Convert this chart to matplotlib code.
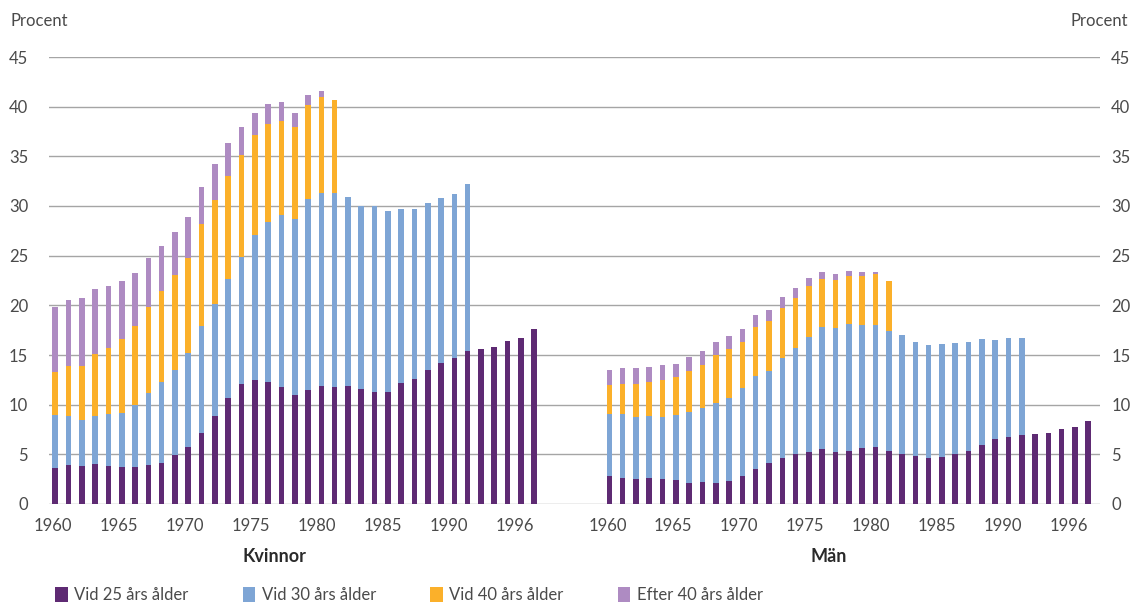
import numpy as np
import matplotlib
matplotlib.use('Agg')
import matplotlib.pyplot as plt
from matplotlib.patches import Patch

plt.rcParams['font.family'] = ['Lato', 'DejaVu Sans']

# ---- data (percent), stacked segments per cohort year ----
year_labels = ['1960', '1965', '1970', '1975', '1980', '1985', '1990', '1996']
groups = ['Kvinnor', 'Män']
series = ['Vid 25 års ålder', 'Vid 30 års ålder', 'Vid 40 års ålder', 'Efter 40 års ålder']

k_vid25 = [3.6, 3.9, 3.8, 4.0, 3.8, 3.7, 3.7, 3.9, 4.1, 4.9, 5.7, 7.1, 8.9, 10.7, 12.1, 12.5,
           12.3, 11.8, 11.0, 11.5, 11.9, 11.8, 11.9, 11.6, 11.3, 11.3, 12.2, 12.6, 13.5, 14.2,
           14.7, 15.4, 15.6, 15.8, 16.4, 16.7, 17.6]
k_vid30 = [5.4, 5.0, 4.7, 4.9, 5.3, 5.5, 6.3, 7.3, 8.2, 8.6, 9.5, 10.8, 11.2, 12.0, 12.8, 14.6,
           16.1, 17.3, 17.7, 19.2, 19.4, 19.5, 19.0, 18.4, 18.7, 18.2, 17.5, 17.1, 16.8, 16.6,
           16.5, 16.8, 0, 0, 0, 0, 0]
k_vid40 = [4.3, 5.0, 5.4, 6.2, 6.6, 7.4, 7.9, 8.6, 9.1, 9.6, 9.6, 10.3, 10.5, 10.3, 10.2, 10.0,
           9.9, 9.5, 9.3, 9.5, 9.7, 9.4] + [0] * 15
k_efter40 = [6.5, 6.6, 6.8, 6.5, 6.2, 5.8, 5.4, 5.0, 4.6, 4.3, 4.1, 3.7, 3.6, 3.3, 2.9, 2.3,
             2.0, 1.9, 1.4, 1.0, 0.6] + [0] * 16

m_vid25 = [2.8, 2.6, 2.5, 2.6, 2.5, 2.4, 2.1, 2.2, 2.1, 2.3, 2.8, 3.5, 4.1, 4.6, 5.0, 5.2,
           5.5, 5.2, 5.3, 5.6, 5.7, 5.3, 5.0, 4.8, 4.6, 4.7, 5.0, 5.3, 5.9, 6.5, 6.7, 6.9,
           7.0, 7.1, 7.6, 7.8, 8.4]
m_vid30 = [6.3, 6.5, 6.3, 6.3, 6.3, 6.6, 7.2, 7.5, 8.1, 8.4, 8.9, 9.4, 9.3, 10.1, 10.7, 11.6,
           12.3, 12.5, 12.8, 12.4, 12.3, 12.1, 12.0, 11.5, 11.4, 11.4, 11.2, 11.0, 10.7, 10.0,
           10.0, 9.8, 0, 0, 0, 0, 0]
m_vid40 = [2.9, 3.0, 3.3, 3.4, 3.7, 3.8, 4.1, 4.3, 4.8, 4.9, 4.6, 4.9, 5.0, 5.0, 5.0, 5.1,
           4.9, 4.9, 4.9, 5.0, 5.2, 5.0] + [0] * 15
m_efter40 = [1.5, 1.6, 1.6, 1.5, 1.5, 1.3, 1.4, 1.4, 1.3, 1.3, 1.3, 1.2, 1.1, 1.1, 1.0, 0.9,
             0.7, 0.6, 0.5, 0.4, 0.2] + [0] * 16

colors = ['#5e2a73', '#7ea5d5', '#fbb02a', '#ae8bc2']
text_col = '#4a4a4a'

fig = plt.figure(figsize=(11.32, 6.04), dpi=100)
ax = fig.add_axes([49 / 1132, 100 / 604, 1051 / 1132, 447 / 604])

n = len(k_vid25)
offset = 41.65  # gap between the two groups, in bar units
x_k = np.arange(n)
x_m = np.arange(n) + offset
w = 0.42

for xs, data in [(x_k, [k_vid25, k_vid30, k_vid40, k_efter40]),
                 (x_m, [m_vid25, m_vid30, m_vid40, m_efter40])]:
    bottom = np.zeros(n)
    for vals, c in zip(data, colors):
        vals = np.array(vals, dtype=float)
        ax.bar(xs, vals, width=w, bottom=bottom, color=c, edgecolor='none', zorder=3)
        bottom += vals

ax.set_ylim(0, 45)
ax.set_xlim(-0.47, offset + n - 1 + 0.88)
ax.set_yticks(np.arange(0, 46, 5))
ax.yaxis.grid(True, color='#a5a5a5', linewidth=1.0, zorder=0)
ax.set_axisbelow(True)
for s in ax.spines.values():
    s.set_visible(False)

tick_pos = np.linspace(-0.15, 34.55, len(year_labels))
ax.set_xticks(np.concatenate([tick_pos, tick_pos + offset]))
ax.set_xticklabels(year_labels * 2)
ax.tick_params(axis='x', length=0, pad=10, labelsize=12, labelcolor=text_col)
ax.tick_params(axis='y', length=0, pad=15, labelsize=12, labelcolor=text_col)

# right-hand scale (same values), closer to the plot
ax2 = ax.twinx()
ax2.set_ylim(ax.get_ylim())
ax2.set_yticks(np.arange(0, 46, 5))
ax2.tick_params(axis='y', length=0, pad=8, labelsize=12, labelcolor=text_col)
for s in ax2.spines.values():
    s.set_visible(False)

trans = ax.get_xaxis_transform()
for name, xc in zip(groups, [16.5, 16.5 + offset]):
    ax.text(xc, -0.118, name, transform=trans, ha='center', va='center',
            fontsize=13, fontweight='bold', color='#2a2a2a')

fig.text(10 / 1132, 1 - 21 / 604, 'Procent', ha='left', va='center', fontsize=12, color=text_col)
fig.text(1128 / 1132, 1 - 21 / 604, 'Procent', ha='right', va='center', fontsize=12, color=text_col)

handles = [Patch(facecolor=c, edgecolor='none') for c in colors]
fig.legend(handles, series, loc='center left', bbox_to_anchor=(40 / 1132, 1 - 595 / 604),
           ncol=4, frameon=False, fontsize=12, handlelength=0.75, handleheight=1.0,
           handletextpad=0.4, columnspacing=3.25, labelcolor=text_col)

fig.savefig('out.png', dpi=100)
